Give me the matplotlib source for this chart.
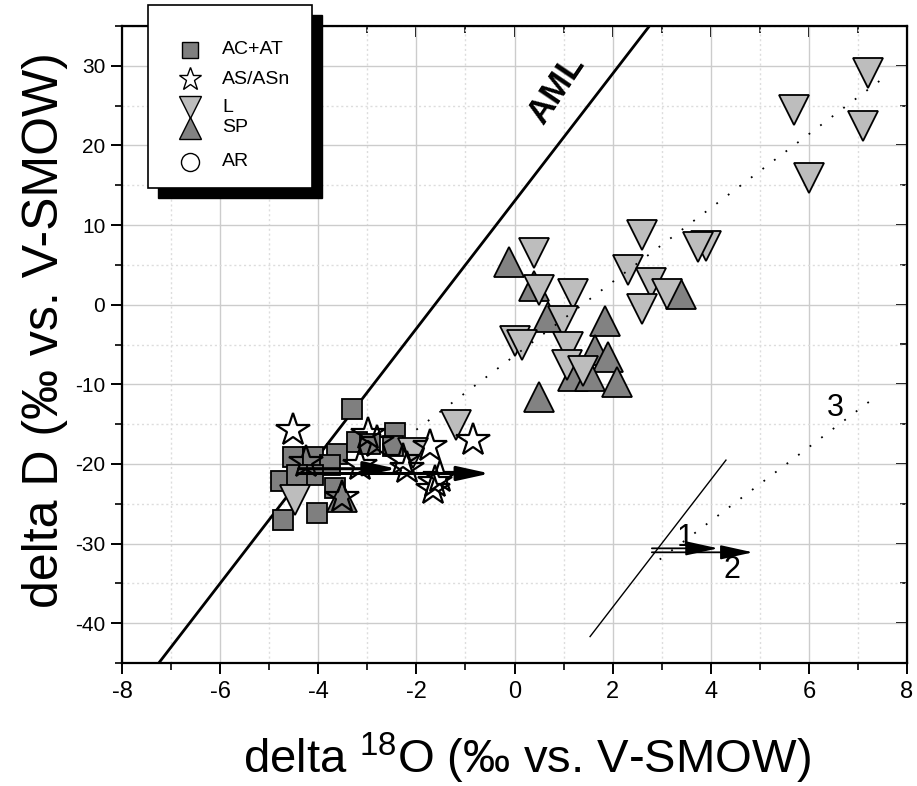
import numpy as np
import matplotlib.pyplot as plt
from matplotlib.lines import Line2D
from matplotlib.patches import Rectangle
from matplotlib.ticker import MultipleLocator

plt.rcParams['font.family'] = ['Liberation Sans', 'DejaVu Sans']
plt.rcParams['axes.unicode_minus'] = False
plt.rcParams['mathtext.fontset'] = 'custom'
plt.rcParams['mathtext.rm'] = 'Liberation Sans'

# AC+AT (squares)
acat_x = [-3.32, -4.52, -4.11, -3.62, -3.76, -4.11, -4.75, -4.44, -3.66, -4.03,
          -4.71, -3.22, -2.95, -2.44, -2.48]
acat_y = [-13.1, -19.1, -19.1, -18.8, -20.1, -21.4, -22.2, -21.4, -23.0, -26.2,
          -27.0, -17.2, -17.5, -16.1, -17.8]

# AS/ASn (open stars)
as_x = [-4.51, -4.24, -3.52, -3.15, -2.99, -2.81, -2.27, -2.20, -1.72, -0.84,
        -1.66, -1.52, -1.62]
as_y = [-15.7, -19.7, -24.1, -20.1, -16.3, -17.2, -19.5, -20.5, -17.8, -17.0,
        -23.2, -21.6, -22.3]

# L (light triangles down)
l_x = [-4.47, -2.07, -1.20, 0.39, 0.49, 1.20, 0.98, 0.00, 0.15, 1.10, 1.06,
       1.40, 2.59, 2.31, 2.79, 3.10, 2.59, 3.90, 3.75, 5.70, 7.20, 7.10, 6.00]
l_y = [-24.5, -18.6, -15.1, 6.45, 1.9, 1.4, -2.05, -4.6, -5.0, -5.3, -7.6,
       -8.3, 8.8, 4.4, 2.75, 1.4, -0.55, 7.4, 7.2, 24.5, 29.1, 22.4, 15.9]

# SP (dark triangles up)
sp_x = [-3.52, -0.11, 0.39, 0.68, 1.84, 1.64, 1.91, 1.20, 1.54, 2.09, 0.49, 3.40]
sp_y = [-24.1, 5.4, 2.4, -1.6, -2.1, -5.65, -6.6, -9.0, -9.0, -9.75, -11.6, 1.4]

# lines: AML slope/intercept, trend line, sketch lines
aml_slope, aml_icpt = 8.0, 13.0
trend_x = [-2.0, 7.45]
trend_slope, trend_icpt = 4.64, -6.42
sketch_x = [1.54, 4.31]
sketch_icpt = -54.0
line3_x = [2.96, 7.29]
line3_y = [-32.0, -11.9]
arrows = [((-4.4, -20.6), (-2.4, -20.6), 2.2),
          ((-4.4, -21.2), (-0.5, -21.2), 2.2),
          ((2.80, -30.6), (4.15, -30.6), 1.3),
          ((2.80, -31.1), (4.86, -31.1), 1.3)]
num_labels = ['1', '2', '3']
num_pos = [(3.47, -29.3), (4.43, -33.3), (6.53, -13.0)]

W, H = 917, 786
fig = plt.figure(figsize=(W / 100, H / 100), dpi=100)
ax = fig.add_axes([122 / W, 1 - 663 / H, (907 - 122) / W, (663 - 26) / H])
ax.set_xlim(-8, 8)
ax.set_ylim(-45, 35)

ax.xaxis.set_major_locator(MultipleLocator(2))
ax.xaxis.set_minor_locator(MultipleLocator(1))
ax.yaxis.set_major_locator(MultipleLocator(10))
ax.yaxis.set_minor_locator(MultipleLocator(5))
ax.grid(True, which='major', color='#cccccc', lw=1.0)
ax.grid(True, which='minor', color='#dddddd', lw=1.0, ls=(0, (1.5, 2)))
ax.set_axisbelow(True)
for s in ax.spines.values():
    s.set_linewidth(1.6)
ax.tick_params(which='major', direction='out', length=8, width=1.4)
ax.tick_params(which='minor', direction='out', length=5, width=1.2)
ax.tick_params(axis='y', labelsize=15, pad=4)
ax.tick_params(axis='x', labelsize=17, pad=5)

sec_r = ax.secondary_yaxis('right')
sec_r.yaxis.set_major_locator(MultipleLocator(10))
sec_r.yaxis.set_minor_locator(MultipleLocator(5))
sec_r.tick_params(which='major', direction='in', length=8, width=1.4, labelright=False)
sec_r.tick_params(which='minor', direction='in', length=5, width=1.2)
sec_t = ax.secondary_xaxis('top')
sec_t.xaxis.set_major_locator(MultipleLocator(2))
sec_t.xaxis.set_minor_locator(MultipleLocator(1))
sec_t.tick_params(which='major', direction='in', length=8, width=1.4, labeltop=False)
sec_t.tick_params(which='minor', direction='in', length=5, width=1.2)

# AML
xa = np.array([-8.5, 3.5])
ax.plot(xa, aml_slope * xa + aml_icpt, color='black', lw=2.0, zorder=2)
ax.text(0.85, 27.0, 'AML', fontsize=25, fontweight='bold', rotation=56,
        ha='center', va='center', zorder=6)

ms_kw = dict(ls='none', markeredgecolor='black', markeredgewidth=1.3)
ax.plot(acat_x, acat_y, marker='s', ms=15, markerfacecolor='#7f7f7f', zorder=3, **ms_kw)
ax.plot(sp_x, sp_y, marker='^', ms=21, markerfacecolor='#828282', zorder=3, **ms_kw)
ax.plot(l_x, l_y, marker='v', ms=21, markerfacecolor='#bdbdbd', zorder=3, **ms_kw)
ax.plot(as_x, as_y, marker='*', ms=25, markerfacecolor='none', ls='none',
        markeredgecolor='black', markeredgewidth=1.6, zorder=4)

# dotted trend lines
tx = np.array(trend_x)
ax.plot(tx, trend_slope * tx + trend_icpt, color='black', lw=1.3,
        ls=(0, (1, 7)), zorder=5)
ax.plot(line3_x, line3_y, color='black', lw=1.3, ls=(0, (1, 7)), zorder=5)
sx = np.array(sketch_x)
ax.plot(sx, aml_slope * sx + sketch_icpt, color='black', lw=1.0, zorder=5)

for (x0, y0), (x1, y1), lw in arrows:
    ax.annotate('', xy=(x1, y1), xytext=(x0, y0),
                arrowprops=dict(arrowstyle='-|>,head_length=1.0,head_width=0.22',
                                color='black', lw=lw, shrinkA=0, shrinkB=0,
                                mutation_scale=20),
                zorder=7)
for t, (x, y) in zip(num_labels, num_pos):
    ax.text(x, y, t, fontsize=22, ha='center', va='center', zorder=7)

# axis labels
fig.text(527 / W, 1 - 758 / H, 'delta $\\mathregular{^{18}}$O (‰ vs. V-SMOW)',
         fontsize=34, ha='center', va='center')
fig.text(45 / W, 1 - 330 / H, 'delta D (‰ vs. V-SMOW)', fontsize=36,
         rotation=90, ha='center', va='center')

# legend box with shadow
def fx(px):
    return px / W


def fy(py):
    return 1 - py / H


fig.add_artist(Rectangle((fx(158), fy(198)), fx(164), 183 / H, transform=fig.transFigure,
                         facecolor='black', edgecolor='black', zorder=10))
fig.add_artist(Rectangle((fx(148), fy(188)), fx(164), 183 / H, transform=fig.transFigure,
                         facecolor='white', edgecolor='black', lw=1.2, zorder=11))
leg_labels = ['AC+AT', 'AS/ASn', 'L', 'SP', 'AR']
leg_rows = [50, 79, 107, 128, 162]
leg_style = [('s', 12, '#7f7f7f'), ('*', 17, 'white'), ('v', 16, '#bdbdbd'),
             ('^', 16, '#828282'), ('o', 13, 'white')]
for lab, row, (m, size, fc) in zip(leg_labels, leg_rows, leg_style):
    fig.add_artist(Line2D([fx(190)], [fy(row)], marker=m, ms=size, markerfacecolor=fc,
                          markeredgecolor='black', markeredgewidth=1.0, ls='none',
                          transform=fig.transFigure, zorder=12))
    fig.text(fx(222), fy(row), lab, fontsize=14, ha='left', va='center', zorder=12)

fig.savefig('out.png', dpi=100)
